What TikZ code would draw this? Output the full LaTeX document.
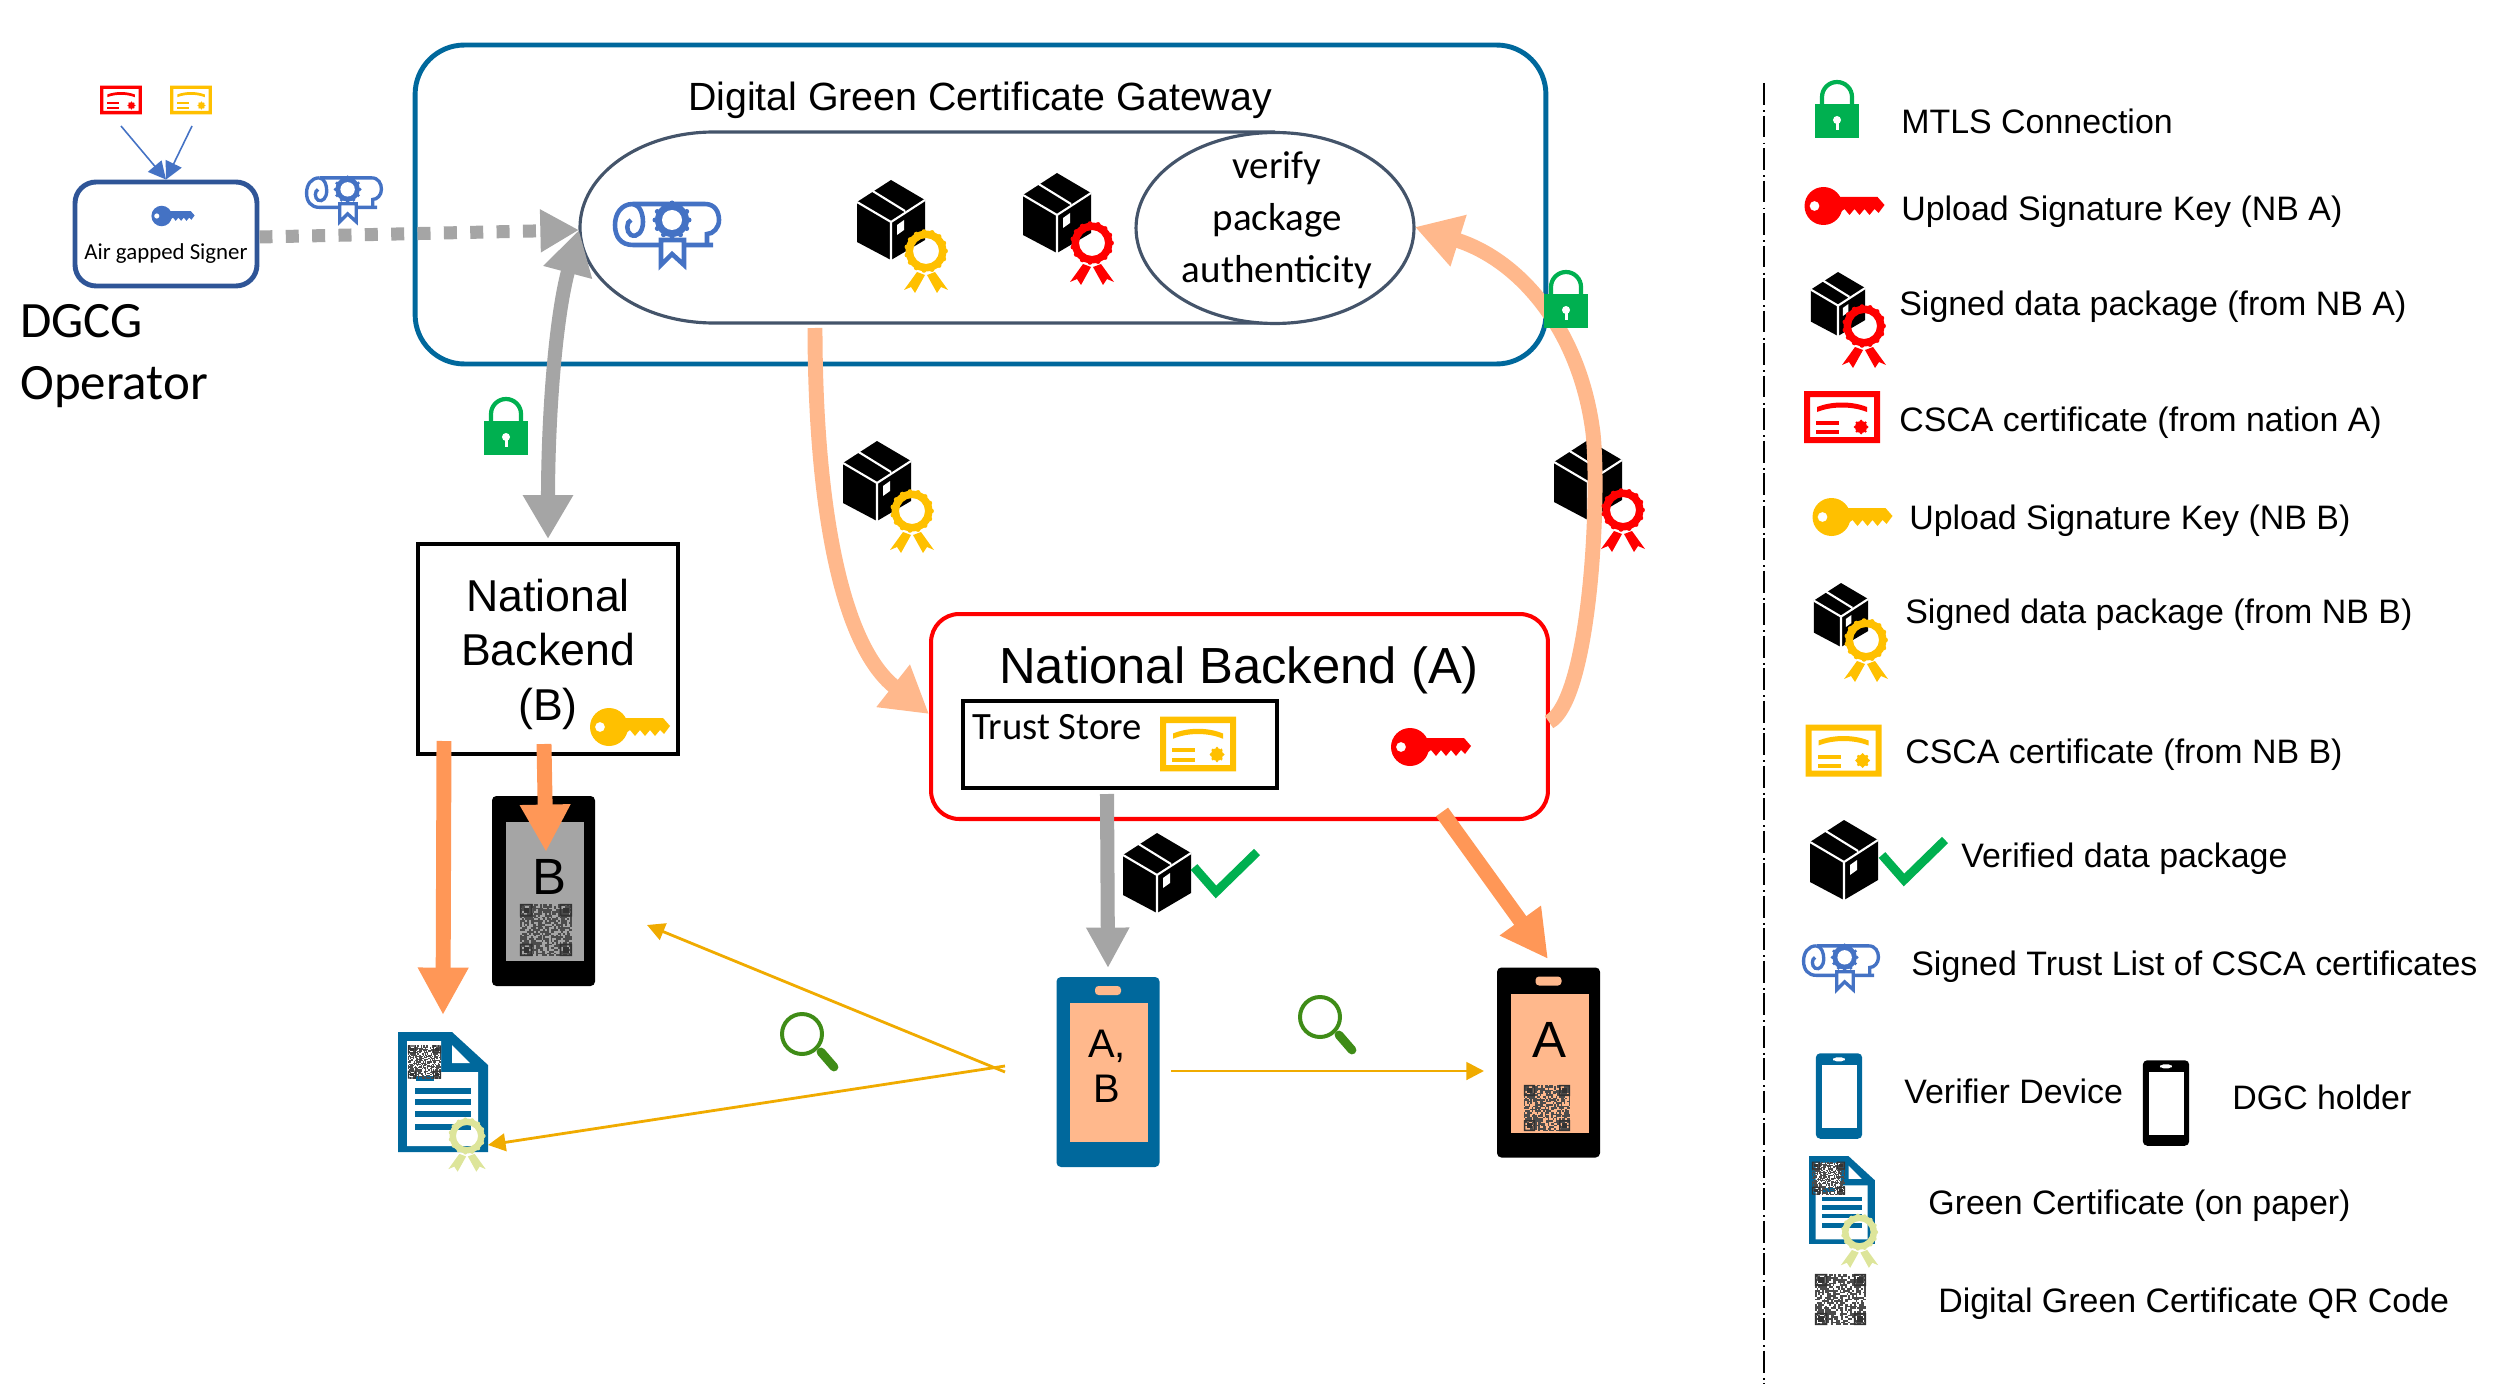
\documentclass[tikz,border=0pt]{standalone}
\usepackage{fontspec}
\setmainfont{Liberation Sans}
\newfontfamily\calfont{Carlito}
\usetikzlibrary{arrows.meta,shapes.geometric}

\definecolor{gwblue}{HTML}{00689C}
\definecolor{slateline}{HTML}{44546A}
\definecolor{signerblue}{HTML}{2F5597}
\definecolor{iconblue}{HTML}{4472C4}
\definecolor{peach}{HTML}{FFB88C}
\definecolor{strongorange}{HTML}{FF9757}
\definecolor{midgrey}{HTML}{A5A5A5}
\definecolor{lockgreen}{HTML}{00B050}
\definecolor{gold}{HTML}{FFC000}
\definecolor{scanline}{HTML}{F0AB00}
\definecolor{lensgreen}{HTML}{3F8C17}
\definecolor{paleseal}{HTML}{DDE59A}

\tikzset{
  legendtext/.style={anchor=west,inner sep=0pt,text height=17pt,text depth=4pt,font=\fontsize{19.3}{25}\selectfont},
  caltext/.style={inner sep=0pt,align=center,font=\calfont\fontsize{22.2}{29.6}\selectfont},
  phonetext/.style={inner sep=0pt,align=center,font=\fontsize{29}{34}\selectfont},
  peachline/.style={draw=peach,line width=8.5pt,-{Triangle[length=26pt,width=29pt]}},
  orangeline/.style={draw=strongorange,line width=8.5pt,-{Triangle[length=27pt,width=27pt]}},
  greyline/.style={draw=midgrey,line width=8pt},
  scanarrow/.style={draw=scanline,line width=1.6pt,-{Triangle[length=10pt,width=10pt]}},
  thinblue/.style={draw=iconblue,line width=.9pt,-{Triangle[length=10pt,width=10pt]}},
  keyicon/.pic={
    \fill[even odd rule] (-21,0) circle[radius=19] (-30,0) circle[radius=5];
    \fill (-8,-9) -- (33,-9) -- (40,-1) -- (34,7) -- (30,3) -- (25,9) -- (20,3) -- (15,9) -- (10,3) -- (5,9) -- (0,3) -- (-8,9) -- cycle;
  },
  certicon/.pic={
    \fill[even odd rule] (-38,-26) rectangle (38,26) (-32,-20) rectangle (32,20);
    \fill (-25,-10) .. controls (-10,-16) and (10,-16) .. (25,-10) -- (25,-5) .. controls (10,-11) and (-10,-11) .. (-25,-5) -- cycle;
    \fill (-26,4) rectangle (-3,8);
    \fill (-26,13) rectangle (-3,17);
    \fill (19,10) circle[radius=6];
    \foreach \a in {0,45,...,315} \fill (19,10) ++(\a:6) circle[radius=1.5];
  },
  rosetteicon/.pic={
    \fill[even odd rule] (0,0) circle[radius=20.5] (0,0) circle[radius=13];
    \foreach \a in {0,24,...,336} \fill (\a:19.5) circle[radius=2.4];
    \fill (-9,21) -- (-1,24) -- (-11,42) -- (-15,36) -- (-22,39) -- cycle;
    \fill (9,21) -- (1,24) -- (11,42) -- (15,36) -- (22,39) -- cycle;
  },
  boxicon/.pic={
    \fill[black] (0,-40) -- (34,-20) -- (34,20) -- (0,40) -- (-34,22) -- (-34,-18) -- cycle;
    \draw[white,line width=1.2pt] (-34,-18) -- (0,2) -- (34,-20) (0,2) -- (0,40) (-20,-30) -- (14,-9);
    \fill[white] (6,5) -- (13,0) -- (13,10) -- (6,15) -- cycle;
  },
  scrollicon/.pic={
    \draw (-34,-28) -- (38,-28) .. controls (48,-28) and (52,-20) .. (52,-12) .. controls (52,-4) and (46,2) .. (40,2) -- (40,13);
    \draw (-34,-28) .. controls (-46,-28) and (-52,-18) .. (-52,-7) .. controls (-52,5) and (-46,13) .. (-34,13) -- (46,13);
    \draw (-34,-28) .. controls (-27,-27) and (-24,-18) .. (-24,-10) .. controls (-24,0) and (-30,6) .. (-36,3) .. controls (-41,0) and (-41,-10) .. (-36,-12);
    \filldraw[fill=white] (-6,8) -- (-6,33) -- (5,22) -- (17,33) -- (17,8) -- cycle;
    \fill (5,-12) circle[radius=17];
    \foreach \a in {0,30,...,330} \fill (5,-12) ++(\a:17) circle[radius=2.5];
    \fill[white] (5,-12) circle[radius=10];
  },
  lockicon/.pic={
    \draw[line width=2.4pt] (-15,-4) -- (-15,-13) arc[start angle=180,end angle=360,radius=15] -- (15,-4);
    \fill (-22,-6) rectangle (22,28);
    \fill[white] (0,10) circle[radius=4];
    \fill[white] (-1.5,10) rectangle (1.5,20);
  },
  qricon/.pic={
    \pgfmathsetseed{11}
    \foreach \i in {0,...,28}{
      \foreach \j in {0,...,28}{
        \pgfmathtruncatemacro\qrbit{random(0,9)}
        \ifnum\qrbit<6 \fill[black!70] (\i-14.5,\j-14.5) rectangle ++(1,1);\fi
      }
    }
    \foreach \cx/\cy in {-11/-11,11/-11,-11/11,11/11}{
      \fill[black!80,even odd rule] (\cx-3.5,\cy-3.5) rectangle ++(7,7) (\cx-2.5,\cy-2.5) rectangle ++(5,5);
      \fill[black!80] (\cx-1.5,\cy-1.5) rectangle ++(3,3);
    }
  },
  lensicon/.pic={
    \fill[lensgreen,even odd rule] (0,0) circle[radius=22] (0,0) circle[radius=18];
    \draw[lensgreen,line width=5pt,line cap=round] (19,18) -- (32,33);
  },
  checkicon/.pic={
    \draw[lockgreen,line width=5pt] (0,0) -- (22,25) -- (63,-15);
  },
  docicon/.pic={
    \fill[gwblue] (-45,-60) -- (9,-60) -- (45,-27) -- (45,60) -- (-45,60) -- cycle;
    \fill[white] (-36,-51) -- (-2,-51) -- (-2,-20) -- (35,-20) -- (35,54) -- (-36,54) -- cycle;
    \fill[white] (9,-47) -- (27,-29) -- (9,-29) -- cycle;
    \fill[gwblue] (-27,-16) rectangle (-9,-11);
    \foreach \ly in {-1,10,22,35} \fill[gwblue] (-28,\ly-3) rectangle (28,\ly+3);
    \pic[scale=1.14] at (-18.5,-30) {qricon};
    \pic[color=paleseal,scale=.85] at (24,44) {rosetteicon};
  },
  pics/phoneicon/.style 2 args={code={
    \fill[#1,rounded corners=2.5pt] (-51.5,-95) rectangle (51.5,95);
    \fill[#2] (-38,-69) rectangle (40,70);
    \fill[#2,rounded corners=2pt] (-13,-86) rectangle (13,-77);
  }}
}

\begin{document}
\begin{tikzpicture}[x=0.02cm,y=-0.02cm]
    \useasboundingbox (0,0) rectangle (2500,1395);

    % Gateway
    \node[draw=gwblue,line width=2.8pt,rounded corners=28pt,minimum width=22.62cm,minimum height=6.38cm] (gateway) at (980.5,204.5) {};
    \node[inner sep=0pt,font=\fontsize{22.4}{27}\selectfont] (gatewaytitle) at (980,100) {Digital Green Certificate Gateway};
    \draw[draw=slateline,line width=1.8pt] (1275,323) -- (714,323) arc[start angle=90,end angle=270,x radius=134,y radius=95.5] -- (1275,132);
    \coordinate (storewest) at (579,230);
    \node[ellipse,draw=slateline,fill=white,line width=1.8pt,inner sep=0pt,minimum width=5.56cm,minimum height=3.82cm] (verifynode) at (1275,228) {};
    \node[caltext] (verifytext) at (1277,220) {verify\\package\\authenticity};
    \pic[color=iconblue,line width=2.6pt] at (667,232) {scrollicon};
    \pic at (891,220) {boxicon};
    \pic[color=gold] at (926,251) {rosetteicon};
    \pic at (1057,213) {boxicon};
    \pic[color=red] at (1092,243) {rosetteicon};

    % Signer
    \node[draw=signerblue,line width=2.8pt,rounded corners=12pt,minimum width=3.64cm,minimum height=2.08cm] (signer) at (166,234) {};
    \node[inner sep=0pt,font=\calfont\fontsize{13}{15}\selectfont] (signerlabel) at (166,254) {Air gapped Signer};
    \pic[color=iconblue,scale=.54] at (173,216) {keyicon};
    \pic[color=red,scale=.55] at (121,100) {certicon};
    \pic[color=gold,scale=.55] at (191,100) {certicon};
    \coordinate (certredfoot) at (121,126);
    \coordinate (certgoldfoot) at (192,126);
    \draw[thinblue] (certredfoot) -- (signer.north);
    \draw[thinblue] (certgoldfoot) -- (signer.north);
    \node[inner sep=0pt,anchor=west,font=\calfont\fontsize{29}{35}\selectfont] (dgcgtext) at (20,321) {DGCG};
    \node[inner sep=0pt,anchor=west,font=\calfont\fontsize{29}{35}\selectfont] (operatortext) at (20,387) {Operator};
    \pic[color=iconblue,line width=1.9pt,scale=.72] at (344,198) {scrollicon};
    \draw[greyline,line width=7.4pt,dash pattern=on 7.4pt off 7.6pt,-{Triangle[length=22pt,width=23pt]}] (signer.east) ++(0,3) -- (storewest);

    % National backend B
    \node[draw=black,line width=2.3pt,minimum width=5.2cm,minimum height=4.2cm] (nbB) at (548,649) {};
    \node[inner sep=0pt,align=center,font=\fontsize{25.4}{31}\selectfont] (nbBtext) at (548,654) {National\\Backend\\(B)};
    \pic[color=gold] at (630,727) {keyicon};
    \coordinate (nbBtop) at (548,539);
    \draw[greyline,{Triangle[length=25pt,width=27pt]}-{Triangle[length=25pt,width=27pt]}] (nbBtop) .. controls (548,420) and (555,320) .. (storewest);
    \pic[color=lockgreen] at (506,427) {lockicon};

    % Holder of B
    \pic at (543.5,891) {phoneicon={black}{midgrey}};
    \pic[scale=1.8] at (546,930) {qricon};
    \node[phonetext] (letterB) at (549,877) {B};
    \pic at (443,1092) {docicon};
    \coordinate (nbBdocfrom) at (444,741);
    \coordinate (nbBdocto) at (443,1015);
    \coordinate (nbBphonefrom) at (544,744);
    \coordinate (nbBphoneto) at (546,852);
    \draw[orangeline] (nbBdocfrom) -- (nbBdocto);
    \draw[orangeline] (nbBphonefrom) -- (nbBphoneto);

    % National backend A
    \node[draw=red,line width=2.3pt,rounded corners=16pt,minimum width=12.34cm,minimum height=4.1cm] (nbA) at (1239.5,716.5) {};
    \node[inner sep=0pt,font=\fontsize{28.9}{35}\selectfont] (nbAtitle) at (1239,670) {National Backend (A)};
    \node[draw=black,line width=1.8pt,minimum width=6.28cm,minimum height=1.74cm] (trust) at (1120,744.5) {};
    \node[inner sep=0pt,anchor=west,font=\calfont\fontsize{22}{26}\selectfont] (trusttext) at (972,727) {Trust Store};
    \pic[color=gold,yscale=1.05] at (1198,744) {certicon};
    \pic[color=red] at (1431,747) {keyicon};

    % Package on its way to NB A
    \pic at (877,481) {boxicon};
    \pic[color=gold] at (912,511) {rosetteicon};
    \coordinate (gwdown) at (815,328);
    \coordinate (nbAwest) at (929,714);
    \draw[peachline] (gwdown) .. controls (815,480) and (835,640) .. (nbAwest);

    % Package from NB A
    \pic at (1588,480) {boxicon};
    \coordinate (nbAeast) at (1549,722);
    \coordinate (verifyeast) at (1415,227);
    \draw[peachline] (nbAeast) .. controls (1590,700) and (1600,500) .. (1593,433) .. controls (1580,330) and (1520,260) .. (verifyeast);
    \pic[color=red] at (1623,510) {rosetteicon};
    \pic[color=lockgreen] at (1566,300) {lockicon};

    % Verifier
    \pic at (1108,1072) {phoneicon={gwblue}{peach}};
    \node[phonetext,font=\fontsize{22.7}{25.5}\selectfont] (letterAB) at (1107,1066) {A,\\B};
    \pic at (1548.5,1062.5) {phoneicon={black}{peach}};
    \node[phonetext] (letterA) at (1549,1040) {A};
    \pic[scale=1.6] at (1547,1108) {qricon};
    \pic at (1157,873) {boxicon};
    \pic at (1194,867) {checkicon};
    \coordinate (trustfoot) at (1107,794);
    \coordinate (verifiertop) at (1108,968);
    \draw[greyline,-{Triangle[length=23pt,width=23pt]}] (trustfoot) -- (verifiertop);
    \coordinate (nbAfoot) at (1442,812);
    \coordinate (holderAtop) at (1548,959);
    \draw[orangeline] (nbAfoot) -- (holderAtop);

    % Scanning
    \coordinate (scanupper) at (1005,1072);
    \coordinate (scanlower) at (1005,1066);
    \coordinate (scanB) at (647,925);
    \coordinate (scandoc) at (488,1145);
    \coordinate (scanfrom) at (1171,1071);
    \coordinate (scanA) at (1484,1071);
    \draw[scanarrow] (scanupper) -- (scanB);
    \draw[scanarrow] (scanlower) -- (scandoc);
    \draw[scanarrow] (scanfrom) -- (scanA);
    \pic at (802,1034) {lensicon};
    \pic at (1320,1017) {lensicon};

    % Legend
    \coordinate (septop) at (1764,83);
    \coordinate (sepbottom) at (1764,1384);
    \draw[line width=1.1pt,dash pattern=on 12.5pt off 3pt on 1pt off 2pt] (septop) -- (sepbottom);

    \pic[color=lockgreen] at (1837,110) {lockicon};
    \node[legendtext] (lgmtls) at (1901,122) {MTLS Connection};
    \pic[color=red] at (1844.5,206) {keyicon};
    \node[legendtext] (lgkeyA) at (1901,209) {Upload Signature Key (NB A)};
    \pic[scale=.8] at (1838,304) {boxicon};
    \pic[color=red] at (1864,326) {rosetteicon};
    \node[legendtext] (lgsignedA) at (1899,304) {Signed data package (from NB A)};
    \pic[color=red] at (1842,417) {certicon};
    \node[legendtext] (lgcertA) at (1899,420) {CSCA certificate (from nation A)};
    \pic[color=gold] at (1852.5,517) {keyicon};
    \node[legendtext] (lgkeyB) at (1909,518) {Upload Signature Key (NB B)};
    \pic[scale=.8] at (1841,615) {boxicon};
    \pic[color=gold] at (1866,640) {rosetteicon};
    \node[legendtext] (lgsignedB) at (1905,612) {Signed data package (from NB B)};
    \pic[color=gold] at (1843.5,750.5) {certicon};
    \node[legendtext] (lgcertB) at (1905,752) {CSCA certificate (from NB B)};
    \pic at (1844,860) {boxicon};
    \pic at (1882,855) {checkicon};
    \node[legendtext] (lgverified) at (1961,856) {Verified data package};
    \pic[color=iconblue,line width=1.9pt,scale=.72] at (1841,966) {scrollicon};
    \node[legendtext] (lgtrustlist) at (1911,964) {Signed Trust List of CSCA certificates};
    \pic[scale=.45] at (1839,1096) {phoneicon={gwblue}{white}};
    \node[legendtext] (lgverifier) at (1904,1092) {Verifier Device};
    \pic[scale=.45] at (2166,1103) {phoneicon={black}{white}};
    \node[legendtext] (lgholder) at (2232,1098) {DGC holder};
    \pic[scale=.73] at (1842,1200) {docicon};
    \node[legendtext] (lgpaper) at (1928,1203) {Green Certificate (on paper)};
    \pic[scale=1.77] at (1840.5,1299.5) {qricon};
    \node[legendtext] (lgqr) at (1938,1301) {Digital Green Certificate QR Code};
\end{tikzpicture}
\end{document}
